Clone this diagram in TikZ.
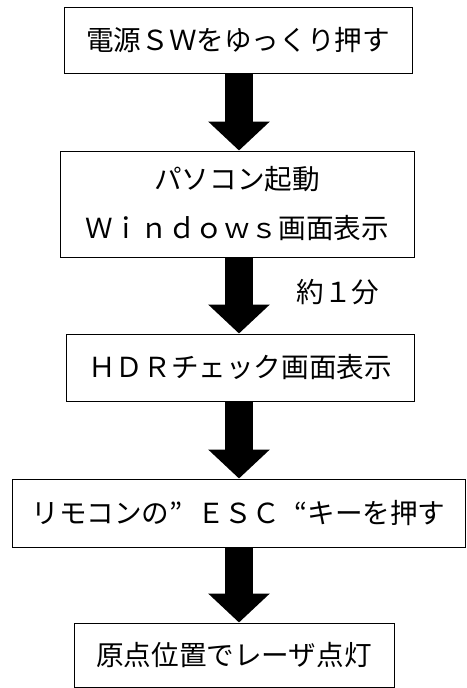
\documentclass[tikz,border=0pt]{standalone}
\usepackage{fontspec}
\newfontfamily\jpfont{Noto Sans CJK JP}
\usetikzlibrary{arrows.meta}
\begin{document}
\begin{tikzpicture}[x=1pt,y=-1pt,
    stepbox/.style={draw, line width=1pt, inner sep=0pt, align=center,
      font={\jpfont\fontsize{27.6pt}{49pt}\selectfont}},
    flow/.style={line width=28pt, -{Triangle[length=29pt,width=60pt]}}]
      \useasboundingbox (0,0) rectangle (466,688);
      \node[stepbox, minimum width=348pt, minimum height=66pt] (sw) at (238,40){電源ＳＷをゆっくり押す};
      \node[stepbox, minimum width=354pt, minimum height=106pt] (boot) at (237,204){パソコン起動\\Ｗｉｎｄｏｗｓ画面表示};
      \node[stepbox, minimum width=348pt, minimum height=67pt] (hdr) at (240,367.5){ＨＤＲチェック画面表示};
      \node[stepbox, minimum width=453pt, minimum height=68pt] (esc) at (238.5,513){リモコンの\makebox[1em][l]{”}ＥＳＣ\makebox[1em][r]{“}キーを押す};
      \node[stepbox, minimum width=320pt, minimum height=64pt] (laser) at (234,655){原点位置でレーザ点灯};
      \node[font={\jpfont\fontsize{27.6pt}{33pt}\selectfont}, inner sep=0pt] (wait) at (338,292){約１分};
      \coordinate (ax) at (239,0);
      \draw[flow] (ax |- sw.south) -- (ax |- boot.north);
      \draw[flow] (ax |- boot.south) -- (ax |- hdr.north);
      \draw[flow] (ax |- hdr.south) -- (ax |- esc.north);
      \draw[flow] (ax |- esc.south) -- (ax |- laser.north);

    \end{tikzpicture}
\end{document}
